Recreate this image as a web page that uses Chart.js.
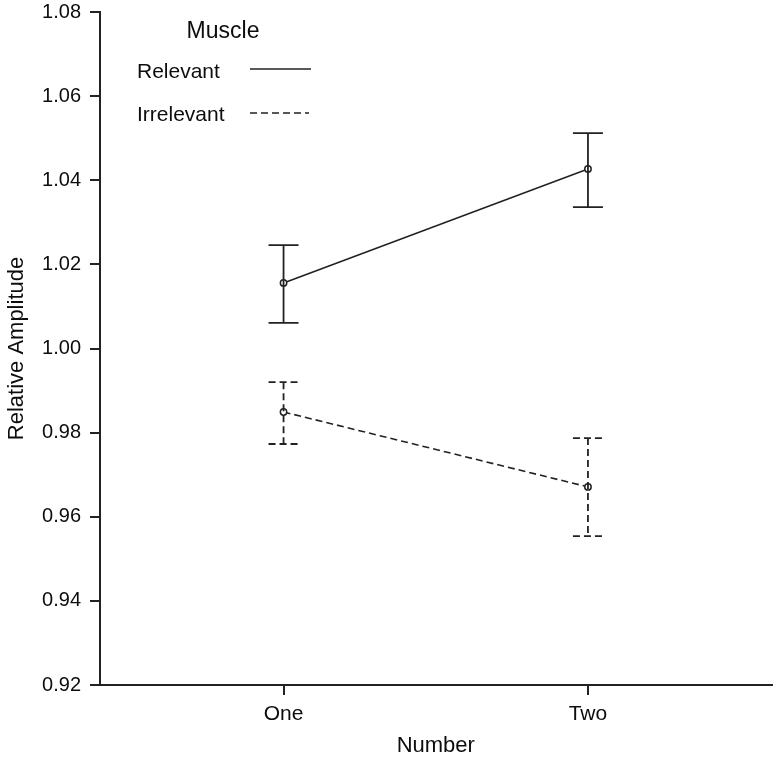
<!DOCTYPE html>
<html>
<head>
<meta charset="utf-8">
<script src="https://cdn.jsdelivr.net/npm/chart.js@4.4.0/dist/chart.umd.min.js"></script>
<style>
    html, body { margin: 0; padding: 0; background: #ffffff; }
    #wrap { width: 777px; height: 761px; }
</style>
</head>
<body>
<div id="wrap"><canvas id="chart" width="777" height="761"></canvas></div>
<script>
// Data
const categories = ['One', 'Two'];
const categoryPositions = [1, 2];
const seriesNames = ['Relevant', 'Irrelevant'];
const relevantMean = [1.0156, 1.0427];
const relevantLow = [1.0061, 1.0336];
const relevantHigh = [1.0246, 1.0512];
const irrelevantMean = [0.9849, 0.9671];
const irrelevantLow = [0.9773, 0.9554];
const irrelevantHigh = [0.9920, 0.9787];
const yTicks = [0.92, 0.94, 0.96, 0.98, 1.00, 1.02, 1.04, 1.06, 1.08];

const inkColor = '#0d0d0d';
const lineColor = '#222222';
const fontFamily = '"Liberation Sans", Arial, sans-serif';
const dashPattern = [7, 4];

// Draws the error bars for each dataset from its low/high arrays
const errorBarPlugin = {
    id: 'errorBars',
    afterDatasetsDraw(chart) {
        const ctx = chart.ctx;
        const xScale = chart.scales.x;
        const yScale = chart.scales.y;
        const capHalf = 15;
        chart.data.datasets.forEach(ds => {
            ctx.save();
            ctx.strokeStyle = ds.borderColor;
            ctx.lineWidth = 1.8;
            ctx.setLineDash(ds.borderDash || []);
            ds.data.forEach((pt, i) => {
                const x = xScale.getPixelForValue(pt.x);
                const yLo = yScale.getPixelForValue(ds.errLow[i]);
                const yHi = yScale.getPixelForValue(ds.errHigh[i]);
                ctx.beginPath();
                ctx.moveTo(x, yHi);
                ctx.lineTo(x, yLo);
                ctx.moveTo(x - capHalf, yHi);
                ctx.lineTo(x + capHalf, yHi);
                ctx.moveTo(x - capHalf, yLo);
                ctx.lineTo(x + capHalf, yLo);
                ctx.stroke();
            });
            ctx.restore();
        });
    }
};

// Legend drawn inside the plot, like the original figure
const legendPlugin = {
    id: 'muscleLegend',
    afterDraw(chart) {
        const ctx = chart.ctx;
        ctx.save();
        ctx.fillStyle = inkColor;
        ctx.textBaseline = 'middle';
        ctx.font = '23px ' + fontFamily;
        ctx.textAlign = 'center';
        ctx.fillText('Muscle', 223, 32);
        ctx.font = '21px ' + fontFamily;
        ctx.textAlign = 'left';
        ctx.fillText(seriesNames[0], 137, 72);
        ctx.fillText(seriesNames[1], 137, 115);
        ctx.strokeStyle = lineColor;
        ctx.lineWidth = 1.6;
        ctx.beginPath();
        ctx.moveTo(250, 69);
        ctx.lineTo(311, 69);
        ctx.stroke();
        ctx.setLineDash(dashPattern);
        ctx.beginPath();
        ctx.moveTo(250, 113);
        ctx.lineTo(309, 113);
        ctx.stroke();
        ctx.restore();
    }
};

function toPoints(values) {
    return values.map((v, i) => ({ x: categoryPositions[i], y: v }));
}

const ctx = document.getElementById('chart').getContext('2d');
new Chart(ctx, {
    type: 'line',
    data: {
        datasets: [
            {
                label: seriesNames[0],
                data: toPoints(relevantMean),
                errLow: relevantLow,
                errHigh: relevantHigh,
                borderColor: lineColor,
                borderWidth: 1.6,
                pointRadius: 3.2,
                pointBorderWidth: 1.5,
                pointBackgroundColor: '#ffffff',
                pointBorderColor: lineColor,
                tension: 0
            },
            {
                label: seriesNames[1],
                data: toPoints(irrelevantMean),
                errLow: irrelevantLow,
                errHigh: irrelevantHigh,
                borderColor: lineColor,
                borderWidth: 1.6,
                borderDash: dashPattern,
                pointRadius: 3.2,
                pointBorderWidth: 1.5,
                pointBackgroundColor: '#ffffff',
                pointBorderColor: lineColor,
                tension: 0
            }
        ]
    },
    options: {
        responsive: false,
        animation: false,
        layout: { padding: { left: 0, top: 12, right: 5, bottom: 0 } },
        plugins: {
            legend: { display: false },
            tooltip: { enabled: false }
        },
        scales: {
            x: {
                type: 'linear',
                min: 0.397,
                max: 2.603,
                afterBuildTicks: s => { s.ticks = categoryPositions.map(v => ({ value: v })); },
                afterFit: s => { s.height = 76; s.paddingLeft = 0; s.paddingRight = 0; },
                ticks: {
                    callback: v => categories[categoryPositions.indexOf(v)] || '',
                    color: inkColor,
                    font: { family: fontFamily, size: 21 },
                    padding: 7,
                    maxRotation: 0
                },
                grid: { drawOnChartArea: false, drawTicks: true, tickLength: 10, color: lineColor, lineWidth: 2 },
                border: { display: true, color: lineColor, width: 2 },
                title: {
                    display: true,
                    text: 'Number',
                    color: inkColor,
                    font: { family: fontFamily, size: 22 },
                    padding: { top: 0, bottom: 2 }
                }
            },
            y: {
                min: 0.92,
                max: 1.08,
                afterBuildTicks: s => { s.ticks = yTicks.map(v => ({ value: v })); },
                afterFit: s => { s.width = 100; s.paddingTop = 0; s.paddingBottom = 0; },
                ticks: {
                    callback: v => v.toFixed(2),
                    color: inkColor,
                    font: { family: fontFamily, size: 20 },
                    padding: 9
                },
                grid: { drawOnChartArea: false, drawTicks: true, tickLength: 10, color: lineColor, lineWidth: 2 },
                border: { display: true, color: lineColor, width: 2 },
                title: {
                    display: true,
                    text: 'Relative Amplitude',
                    color: inkColor,
                    font: { family: fontFamily, size: 22 },
                    padding: { top: 4, bottom: 0 }
                }
            }
        }
    },
    plugins: [errorBarPlugin, legendPlugin]
});
</script>
</body>
</html>
